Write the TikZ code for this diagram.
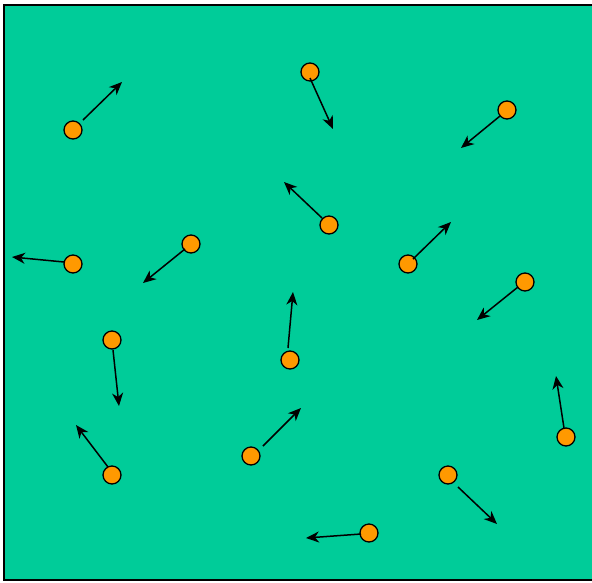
\documentclass[tikz,border=0pt]{standalone}
\usetikzlibrary{arrows.meta,calc}
\definecolor{field}{RGB}{0,204,153}
\definecolor{ball}{RGB}{255,153,0}
\tikzset{
  particle/.style={circle,draw=black,fill=ball,line width=1.3pt,minimum size=18pt,inner sep=0pt},
  vec/.style={draw=black,line width=1.5pt,-{Stealth[length=13pt,width=11pt,inset=4pt]}}
}
\begin{document}
\begin{tikzpicture}[x=1pt,y=-1pt]
  \useasboundingbox (0,0) rectangle (592,582);
  \begin{scope}
    \clip (0,0) rectangle (592,582);
    \draw[fill=field,line width=2pt] (4,5) rectangle (596,580);
  \end{scope}

  % particles
  \node[particle] (p1)  at (73,130)  {};
  \node[particle] (p2)  at (310,72)  {};
  \node[particle] (p3)  at (507,110) {};
  \node[particle] (p4)  at (73,264)  {};
  \node[particle] (p5)  at (191,244) {};
  \node[particle] (p6)  at (329,225) {};
  \node[particle] (p7)  at (408,264) {};
  \node[particle] (p8)  at (525,282) {};
  \node[particle] (p9)  at (112,340) {};
  \node[particle] (p10) at (290,360) {};
  \node[particle] (p11) at (112,475) {};
  \node[particle] (p12) at (251,456) {};
  \node[particle] (p13) at (448,475) {};
  \node[particle] (p14) at (566,437) {};
  \node[particle] (p15) at (369,533) {};

  % velocity tips
  \coordinate (e1)  at (122,82);
  \coordinate (e2)  at (333,129);
  \coordinate (e3)  at (461,148);
  \coordinate (e4)  at (12,257);
  \coordinate (e5)  at (143,283);
  \coordinate (e6)  at (284,182);
  \coordinate (e7)  at (451,222);
  \coordinate (e8)  at (477,320);
  \coordinate (e9)  at (119,406);
  \coordinate (e10) at (293,292);
  \coordinate (e11) at (76,425);
  \coordinate (e12) at (301,408);
  \coordinate (e13) at (497,524);
  \coordinate (e14) at (556,376);
  \coordinate (e15) at (306,538);

  % velocity vectors
  \draw[vec] ($(p1)+(10,-10)$) -- (e1);
  \draw[vec] ($(p2)+(0,6)$) -- (e2);
  \draw[vec] ($(p3)+(-7,6)$) -- (e3);
  \draw[vec] ($(p4)+(-9,-2)$) -- (e4);
  \draw[vec] ($(p5)+(-6,5)$) -- (e5);
  \draw[vec] ($(p6)+(-7,-7)$) -- (e6);
  \draw[vec] ($(p7)+(5,-5)$) -- (e7);
  \draw[vec] ($(p8)+(-7,5)$) -- (e8);
  \draw[vec] ($(p9)+(1,10)$) -- (e9);
  \draw[vec] ($(p10)+(-2,-12)$) -- (e10);
  \draw[vec] ($(p11)+(-4,-8)$) -- (e11);
  \draw[vec] ($(p12)+(12,-10)$) -- (e12);
  \draw[vec] ($(p13)+(10,12)$) -- (e13);
  \draw[vec] ($(p14)+(-2,-9)$) -- (e14);
  \draw[vec] ($(p15)+(-8,1)$) -- (e15);
\end{tikzpicture}
\end{document}
